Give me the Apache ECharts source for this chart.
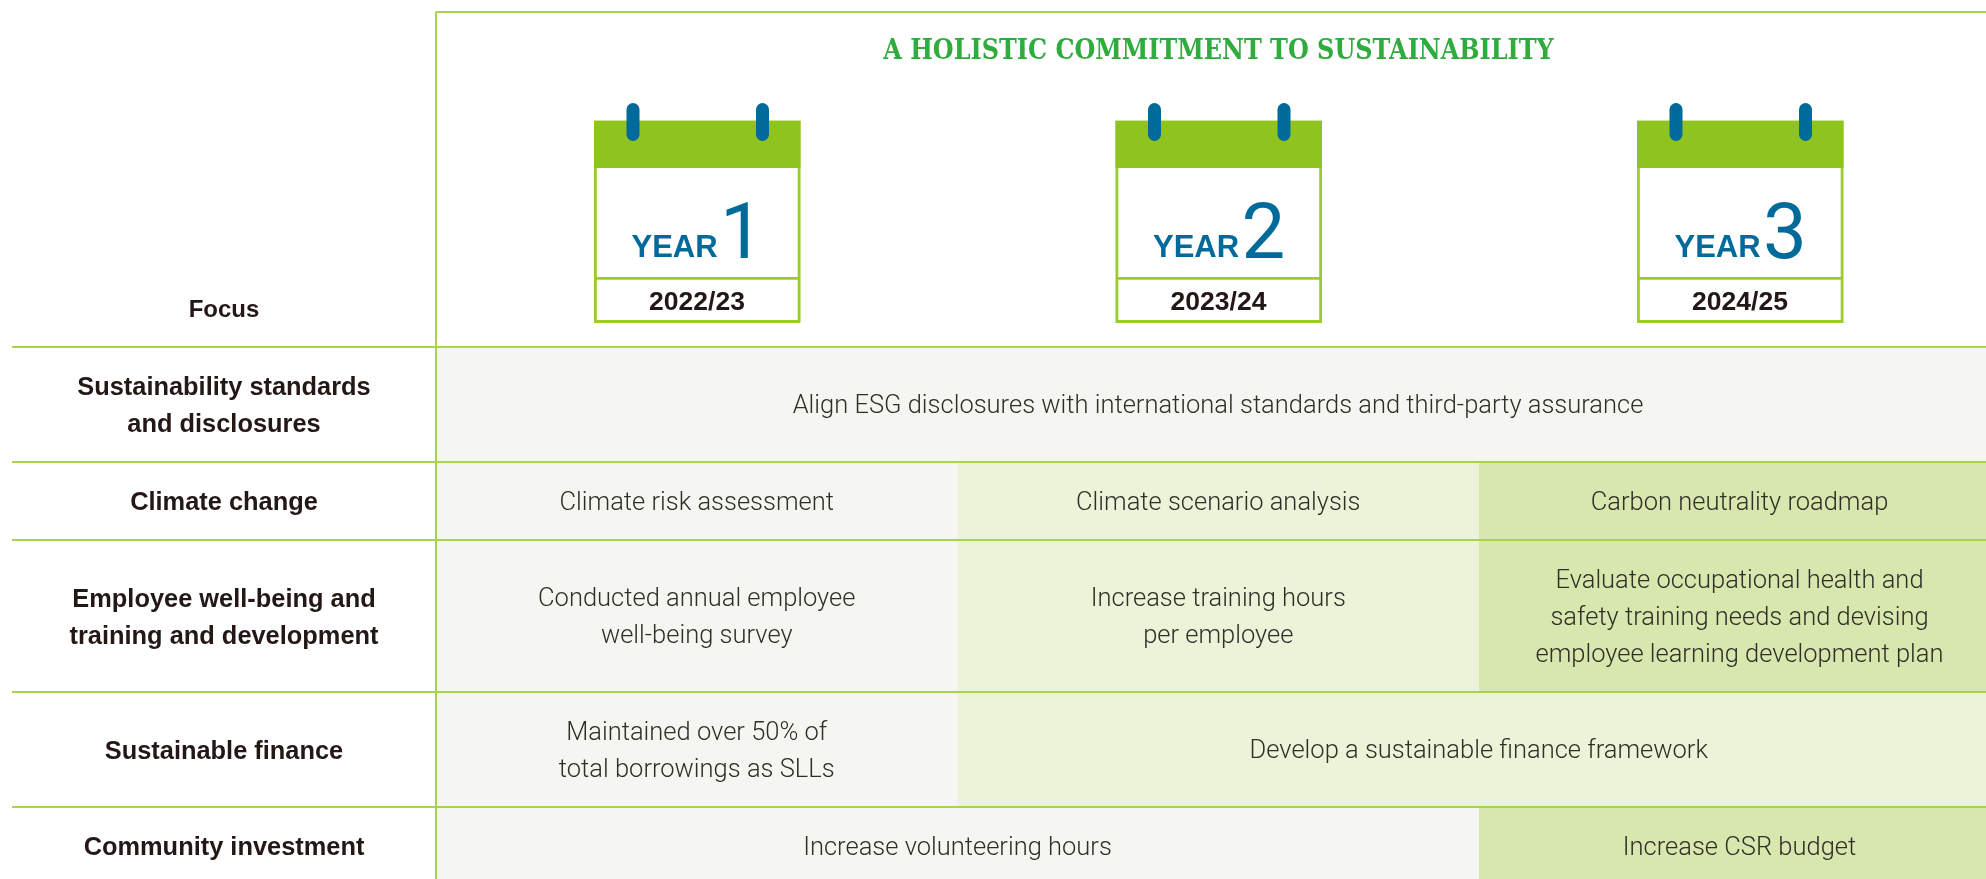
<!DOCTYPE html>
<html>
<head>
<meta charset="utf-8">
<style>
html, body { margin: 0; padding: 0; background: #fff; }
#main { width: 1986px; height: 879px; }
</style>
<script src="https://cdn.jsdelivr.net/npm/echarts@6/dist/echarts.min.js"></script>
</head>
<body>
<div id="main"></div>
<script>
// table content
const chartTitle = "A HOLISTIC COMMITMENT TO SUSTAINABILITY";
const focusHeader = "Focus";
const yearNumbers = ["1", "2", "3"];
const yearRanges = ["2022/23", "2023/24", "2024/25"];
const focusAreas = [
  "Sustainability standards\nand disclosures",
  "Climate change",
  "Employee well-being and\ntraining and development",
  "Sustainable finance",
  "Community investment",
];
// [first year, last year, text] per row
const standardsCells = [[0, 2, "Align ESG disclosures with international standards and third-party assurance"]];
const climateCells = [
  [0, 0, "Climate risk assessment"],
  [1, 1, "Climate scenario analysis"],
  [2, 2, "Carbon neutrality roadmap"],
];
const employeeCells = [
  [0, 0, "Conducted annual employee\nwell-being survey"],
  [1, 1, "Increase training hours\nper employee"],
  [2, 2, "Evaluate occupational health and\nsafety training needs and devising\nemployee learning development plan"],
];
const financeCells = [
  [0, 0, "Maintained over 50% of\ntotal borrowings as SLLs"],
  [1, 2, "Develop a sustainable finance framework"],
];
const communityCells = [
  [0, 1, "Increase volunteering hours"],
  [2, 2, "Increase CSR budget"],
];
const rowCells = [standardsCells, climateCells, employeeCells, financeCells, communityCells];

// layout
const colEdges = [436, 957.5, 1479, 2000];
const rowEdges = [347, 462, 540, 692, 807, 885];
const labelX = 224;
const calendarLeft = [594, 1115.5, 1637];
const calW = 206.5;

// fills
const bandColors = ["#f5f6f1", "#ebf3d8", "#d7e7ae"];
const lineColor = "#a9d34f";
const calGreen = "#8fc31f";
const calLine = "#9ccb2e";
const calBlue = "#006a9a";
const darkText = "#231815";
const bodyText = "#2f2f28";

const sans = '"Liberation Sans", Arial, sans-serif';
const light = 'Roboto, "Liberation Sans", sans-serif';

const cellData = [];
rowCells.forEach((cells, r) => {
  cells.forEach((c) => {
    // the band colour follows the year the cell starts in
    cellData.push({ value: [c[0], c[1], r], text: c[2] });
  });
});

function renderCell(params, api) {
  const d = cellData[params.dataIndex];
  const [from, to, r] = d.value;
  const p0 = api.coord([colEdges[from], rowEdges[r]]);
  const p1 = api.coord([colEdges[to + 1], rowEdges[r + 1]]);
  return {
    type: "group",
    children: [
      {
        type: "rect",
        shape: { x: p0[0], y: p0[1], width: p1[0] - p0[0], height: p1[1] - p0[1] },
        style: { fill: bandColors[from] },
      },
      {
        type: "text",
        z2: 5,
        style: {
          x: (p0[0] + p1[0]) / 2,
          y: (p0[1] + p1[1]) / 2 + 2.5,
          text: d.text,
          fill: bodyText,
          fontFamily: light,
          fontWeight: 300,
          fontSize: 25.5,
          lineHeight: 37,
          align: "center",
          verticalAlign: "middle",
        },
      },
    ],
  };
}

function renderFocus(params, api) {
  const r = params.dataIndex;
  const p = api.coord([labelX, (rowEdges[r] + rowEdges[r + 1]) / 2 + 2]);
  return {
    type: "text",
    style: {
      x: p[0],
      y: p[1],
      text: focusAreas[r],
      fill: darkText,
      fontFamily: sans,
      fontWeight: "bold",
      fontSize: 25.4,
      lineHeight: 37,
      align: "center",
      verticalAlign: "middle",
    },
  };
}

function renderGrid(params, api) {
  const lines = [];
  const seg = (x1, y1, x2, y2) => {
    const a = api.coord([x1, y1]);
    const b = api.coord([x2, y2]);
    lines.push({
      type: "line",
      shape: { x1: a[0], y1: a[1], x2: b[0], y2: b[1] },
      style: { stroke: lineColor, lineWidth: 2 },
    });
  };
  seg(colEdges[0], 12, 1986, 12);
  seg(colEdges[0], 12, colEdges[0], 879);
  rowEdges.slice(0, 5).forEach((y) => seg(12, y, 1986, y));
  return { type: "group", children: lines };
}

function renderCalendar(params, api) {
  const i = params.dataIndex;
  const left = calendarLeft[i];
  const c = (x, y) => api.coord([left + x, y]);
  const box = (x, y, w, h, style, r) => {
    const p = c(x, y);
    return { type: "rect", shape: { x: p[0], y: p[1], width: w, height: h, r: r || 0 }, style };
  };
  const txt = (x, y, text, size, fill, family, weight, align) => {
    const p = c(x, y);
    return {
      type: "text",
      style: { x: p[0], y: p[1], text, fontSize: size, fill, fontFamily: family, fontWeight: weight, align, verticalAlign: "middle" },
    };
  };
  return {
    type: "group",
    children: [
      box(1.4, 122, calW - 2.8, 199.5, { fill: "#fff", stroke: calLine, lineWidth: 2.8 }),
      box(0, 121, calW, 47, { fill: calGreen }),
      box(1.4, 277, calW - 2.8, 2.8, { fill: calLine }),
      box(32.5, 103, 13, 38, { fill: calBlue }, 6.5),
      box(162, 103, 13, 38, { fill: calBlue }, 6.5),
      txt(37.5, 248.5, "YEAR", 31, calBlue, sans, "bold", "left"),
      txt(126, 238, yearNumbers[i], 78, calBlue, light, 400, "left"),
      txt(103, 303, yearRanges[i], 26.5, darkText, sans, "bold", "center"),
    ],
  };
}

function renderHeader(params, api) {
  const f = api.coord([labelX, 310]);
  const t = api.coord([1218.5, 52]);
  return {
    type: "group",
    children: [
      {
        type: "text",
        style: { x: f[0], y: f[1], text: focusHeader, fill: darkText, fontFamily: sans, fontWeight: "bold", fontSize: 24, align: "center", verticalAlign: "middle" },
      },
      {
        type: "text",
        x: t[0],
        y: t[1],
        scaleX: 0.855,
        style: { x: 0, y: 0, text: chartTitle, fill: "#2fac3d", fontFamily: '"DejaVu Serif", serif', fontWeight: "bold", fontSize: 28, align: "center", verticalAlign: "middle" },
      },
    ],
  };
}

const chart = echarts.init(document.getElementById("main"), null, { renderer: "canvas" });
chart.setOption({
  animation: false,
  backgroundColor: "#fff",
  grid: { left: 0, right: 0, top: 0, bottom: 0 },
  xAxis: { type: "value", min: 0, max: 1986, show: false },
  yAxis: { type: "value", min: 0, max: 879, inverse: true, show: false },
  series: [
    { type: "custom", silent: true, clip: false, z: 1, renderItem: renderCell, data: cellData.map((d) => d.value) },
    { type: "custom", silent: true, clip: false, z: 2, renderItem: renderGrid, data: [0] },
    { type: "custom", silent: true, clip: false, z: 3, renderItem: renderFocus, data: focusAreas.map((_, i) => i) },
    { type: "custom", silent: true, clip: false, z: 3, renderItem: renderCalendar, data: yearNumbers.map((_, i) => i) },
    { type: "custom", silent: true, clip: false, z: 3, renderItem: renderHeader, data: [0] },
  ],
});
</script>
</body>
</html>
